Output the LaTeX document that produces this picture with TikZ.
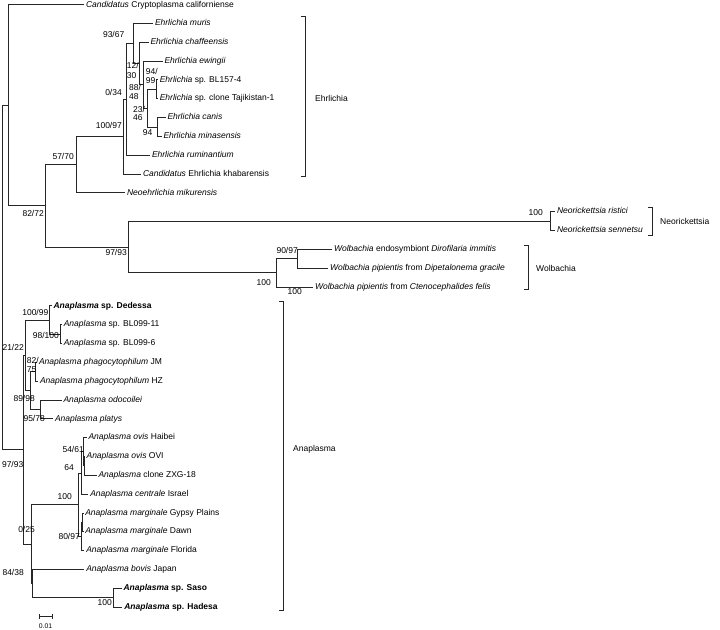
\documentclass[tikz,border=0pt]{standalone}
\usepackage{fontspec}
\setmainfont{Liberation Sans}
\newcommand{\fs}{\fontsize{8.5}{10}\selectfont}
\newcommand{\fss}{\fontsize{6.8}{8}\selectfont}
\begin{document}
\begin{tikzpicture}[x=1pt,y=-1pt,
  br/.style={line width=0.7pt, draw=black!85},
  lf/.style={anchor=west, inner xsep=1.8pt, inner ysep=0pt, text height=6.3pt, text depth=1.8pt, font=\fs},
  bsl/.style={inner sep=0pt, text height=6.3pt, text depth=1.8pt, font=\fs, anchor=east},
  bsw/.style={inner sep=0pt, text height=6.3pt, text depth=1.8pt, font=\fs, anchor=west},
  grp/.style={anchor=west, inner sep=0pt, font=\fs},
  ]
\useasboundingbox (0,0) rectangle (720,629);

% ---------- leaves ----------
\node[lf] (crypt) at (84,4.8) {\textit{Candidatus} Cryptoplasma californiense};
\node[lf] (muris) at (153,23.33) {\textit{Ehrlichia muris}};
\node[lf] (chaff) at (148.5,42.16) {\textit{Ehrlichia chaffeensis}};
\node[lf] (ewing) at (162.5,60.99) {\textit{Ehrlichia ewingii}};
\node[lf] (blse) at (157.8,79.82) {\textit{Ehrlichia} sp. BL157-4};
\node[lf] (taj) at (157.8,98.65) {\textit{Ehrlichia} sp. clone Tajikistan-1};
\node[lf] (canis) at (165.5,117.48) {\textit{Ehrlichia canis}};
\node[lf] (minas) at (161.5,136.31) {\textit{Ehrlichia minasensis}};
\node[lf] (rumin) at (150,155.14) {\textit{Ehrlichia ruminantium}};
\node[lf] (khab) at (141,173.97) {\textit{Candidatus} Ehrlichia khabarensis};
\node[lf] (mikur) at (125,192.8) {\textit{Neoehrlichia mikurensis}};
\node[lf] (rist) at (555,211.63) {\textit{Neorickettsia ristici}};
\node[lf] (senn) at (555,230.46) {\textit{Neorickettsia sennetsu}};
\node[lf] (endo) at (332,249.29) {\textit{Wolbachia} endosymbiont \textit{Dirofilaria immitis}};
\node[lf] (grac) at (328,268.12) {\textit{Wolbachia pipientis} from \textit{Dipetalonema gracile}};
\node[lf] (feli) at (313,286.95) {\textit{Wolbachia pipientis} from \textit{Ctenocephalides felis}};
\node[lf] (dede) at (51.5,305.78) {\textbf{\textit{Anaplasma} sp. Dedessa}};
\node[lf] (bel) at (61.8,324.61) {\textit{Anaplasma} sp. BL099-11};
\node[lf] (bsx) at (61.8,343.44) {\textit{Anaplasma} sp. BL099-6};
\node[lf] (jm) at (37,362.27) {\textit{Anaplasma phagocytophilum} JM};
\node[lf] (hz) at (38,381.1) {\textit{Anaplasma phagocytophilum} HZ};
\node[lf] (odoc) at (61.5,399.93) {\textit{Anaplasma odocoilei}};
\node[lf] (plat) at (53,418.76) {\textit{Anaplasma platys}};
\node[lf] (haib) at (86.5,437.59) {\textit{Anaplasma ovis} Haibei};
\node[lf] (ovi) at (84.6,456.42) {\textit{Anaplasma ovis} OVI};
\node[lf] (zxg) at (96.5,475.25) {\textit{Anaplasma} clone ZXG-18};
\node[lf] (cent) at (88.3,494.08) {\textit{Anaplasma centrale} Israel};
\node[lf] (gyp) at (83.3,512.91) {\textit{Anaplasma marginale} Gypsy Plains};
\node[lf] (dawn) at (83.3,531.74) {\textit{Anaplasma marginale} Dawn};
\node[lf] (flor) at (84.3,550.57) {\textit{Anaplasma marginale} Florida};
\node[lf] (bov) at (84.3,569.4) {\textit{Anaplasma bovis} Japan};
\node[lf] (saso) at (121.5,588.23) {\textbf{\textit{Anaplasma} sp. Saso}};
\node[lf] (hade) at (122.3,607.06) {\textbf{\textit{Anaplasma} sp. Hadesa}};

% ---------- internal nodes ----------
\coordinate (R) at (2.5,277.4);
\coordinate (A) at (8.3,105.15);
\coordinate (B) at (45,205.8);
\coordinate (C) at (76,164.7);
\coordinate (E) at (123.3,136.6);
\coordinate (F) at (126,99.24);
\coordinate (G) at (133.3,43.34);
\coordinate (H) at (139.3,63.35);
\coordinate (K) at (143.3,84.53);
\coordinate (L) at (147,108.07);
\coordinate (J) at (156,89.24);
\coordinate (M) at (157.5,126.9);
\coordinate (D) at (128,246.9);
\coordinate (N) at (550,221.05);
\coordinate (W) at (276.7,272.8);
\coordinate (Wt) at (297.7,258.7);
\coordinate (P) at (23.3,449.65);
\coordinate (Q) at (25.5,355.2);
\coordinate (T) at (49.3,319.9);
\coordinate (U) at (60.7,334.03);
\coordinate (V) at (30,390.5);
\coordinate (X) at (35,371.7);
\coordinate (Y) at (40.7,409.3);
\coordinate (St) at (31.5,544.1);
\coordinate (S) at (32.7,583.5);
\coordinate (AA) at (78.3,504.65);
\coordinate (AB) at (81,472.9);
\coordinate (ABo) at (83.3,451.7);
\coordinate (OZ) at (84,465.8);
\coordinate (AC) at (81.7,536.4);
\coordinate (ACo) at (82.7,522.3);
\coordinate (Z) at (113.3,597.6);

% ---------- branches ----------
\foreach \p/\c in {R/A,R/P,A/B,B/C,B/D,C/E,E/F,F/G,G/H,H/K,K/L,L/J,L/M,D/N,D/W,W/Wt,
  P/Q,P/St,Q/T,Q/V,T/U,V/X,V/Y,St/AA,St/S,S/Z,AA/AB,AA/AC,AB/ABo,ABo/OZ,AC/ACo}
  \draw[br] (\p) |- (\c);
\foreach \p/\c in {A/crypt,C/mikur,E/khab,F/rumin,G/muris,H/chaff,K/ewing,J/blse,J/taj,
  M/canis,M/minas,N/rist,N/senn,W/feli,Wt/endo,Wt/grac,T/dede,U/bel,U/bsx,X/jm,X/hz,
  Y/odoc,Y/plat,ABo/haib,OZ/ovi,OZ/zxg,AB/cent,ACo/gyp,ACo/dawn,AC/flor,S/bov,Z/saso,Z/hade}
  \draw[br] (\p) |- (\c.west);

% ---------- support values ----------
\node[bsl] (b1) at (124.5,35) {93/67};
\node[bsw] (b2a) at (126.7,66) {12/};
\node[bsw] (b2b) at (126.7,76) {30};
\node[bsl] (b3) at (122,93) {0/34};
\node[bsw] (b4a) at (129,88) {88/};
\node[bsw] (b4b) at (129,97.5) {48};
\node[bsw] (b5a) at (145.7,72) {94/};
\node[bsw] (b5b) at (145.7,81) {99};
\node[bsw] (b6a) at (133,110) {23/};
\node[bsw] (b6b) at (133,118.5) {46};
\node[bsl] (b7) at (152.5,133) {94};
\node[bsl] (b8) at (122,126) {100/97};
\node[bsl] (b9) at (74,157) {57/70};
\node[bsl] (b10) at (44,214) {82/72};
\node[bsl] (b11) at (127,253) {97/93};
\node[bsl] (b12) at (543,213) {100};
\node[bsl] (b13) at (298,251) {90/97};
\node[bsl] (b14) at (271,283) {100};
\node[bsl] (b15) at (302,292) {100};
\node[bsl] (b16) at (48.5,313) {100/99};
\node[bsl] (b17) at (59,336) {98/100};
\node[bsl] (b18) at (24,348) {21/22};
\node[bsw] (b19a) at (26.7,361) {82/};
\node[bsw] (b19b) at (26.7,370) {75};
\node[bsl] (b20) at (35,399) {89/98};
\node[bsl] (b21) at (45,419) {95/78};
\node[bsl] (b22) at (23.5,465) {97/93};
\node[bsl] (b23) at (84,450) {54/61};
\node[bsl] (b24) at (74,468) {64};
\node[bsl] (b25) at (72,497) {100};
\node[bsl] (b26) at (80,537) {80/97};
\node[bsl] (b27) at (35,530) {0/25};
\node[bsl] (b28) at (24,573) {84/38};
\node[bsl] (b29) at (112,603) {100};

% ---------- group brackets ----------
\coordinate (eh1) at (305,16);   \coordinate (eh2) at (305,176);
\draw[br] ([xshift=-4pt]eh1) -- (eh1) -- (eh2) -- ([xshift=-4pt]eh2);
\node[grp] (gEhr) at (315,98) {Ehrlichia};
\coordinate (ne1) at (652,207);  \coordinate (ne2) at (652,235);
\draw[br] ([xshift=-4pt]ne1) -- (ne1) -- (ne2) -- ([xshift=-4pt]ne2);
\node[grp] (gNeo) at (660,221) {Neorickettsia};
\coordinate (wo1) at (528,245);  \coordinate (wo2) at (528,289);
\draw[br] ([xshift=-4pt]wo1) -- (wo1) -- (wo2) -- ([xshift=-4pt]wo2);
\node[grp] (gWol) at (536,268) {Wolbachia};
\coordinate (an1) at (283,301.7); \coordinate (an2) at (283,610);
\draw[br] ([xshift=-4pt]an1) -- (an1) -- (an2) -- ([xshift=-4pt]an2);
\node[grp] (gAna) at (293,449) {Anaplasma};

% ---------- scale bar ----------
\coordinate (sb1) at (39.3,616.7); \coordinate (sb2) at (52.7,616.7);
\draw[br] (sb1) -- (sb2);
\draw[br] ([yshift=-2.5pt]sb1) -- ([yshift=2.5pt]sb1);
\draw[br] ([yshift=-2.5pt]sb2) -- ([yshift=2.5pt]sb2);
\node[inner sep=0pt, font=\fss] (sbl) at (45.5,626) {0.01};
\end{tikzpicture}
\end{document}
